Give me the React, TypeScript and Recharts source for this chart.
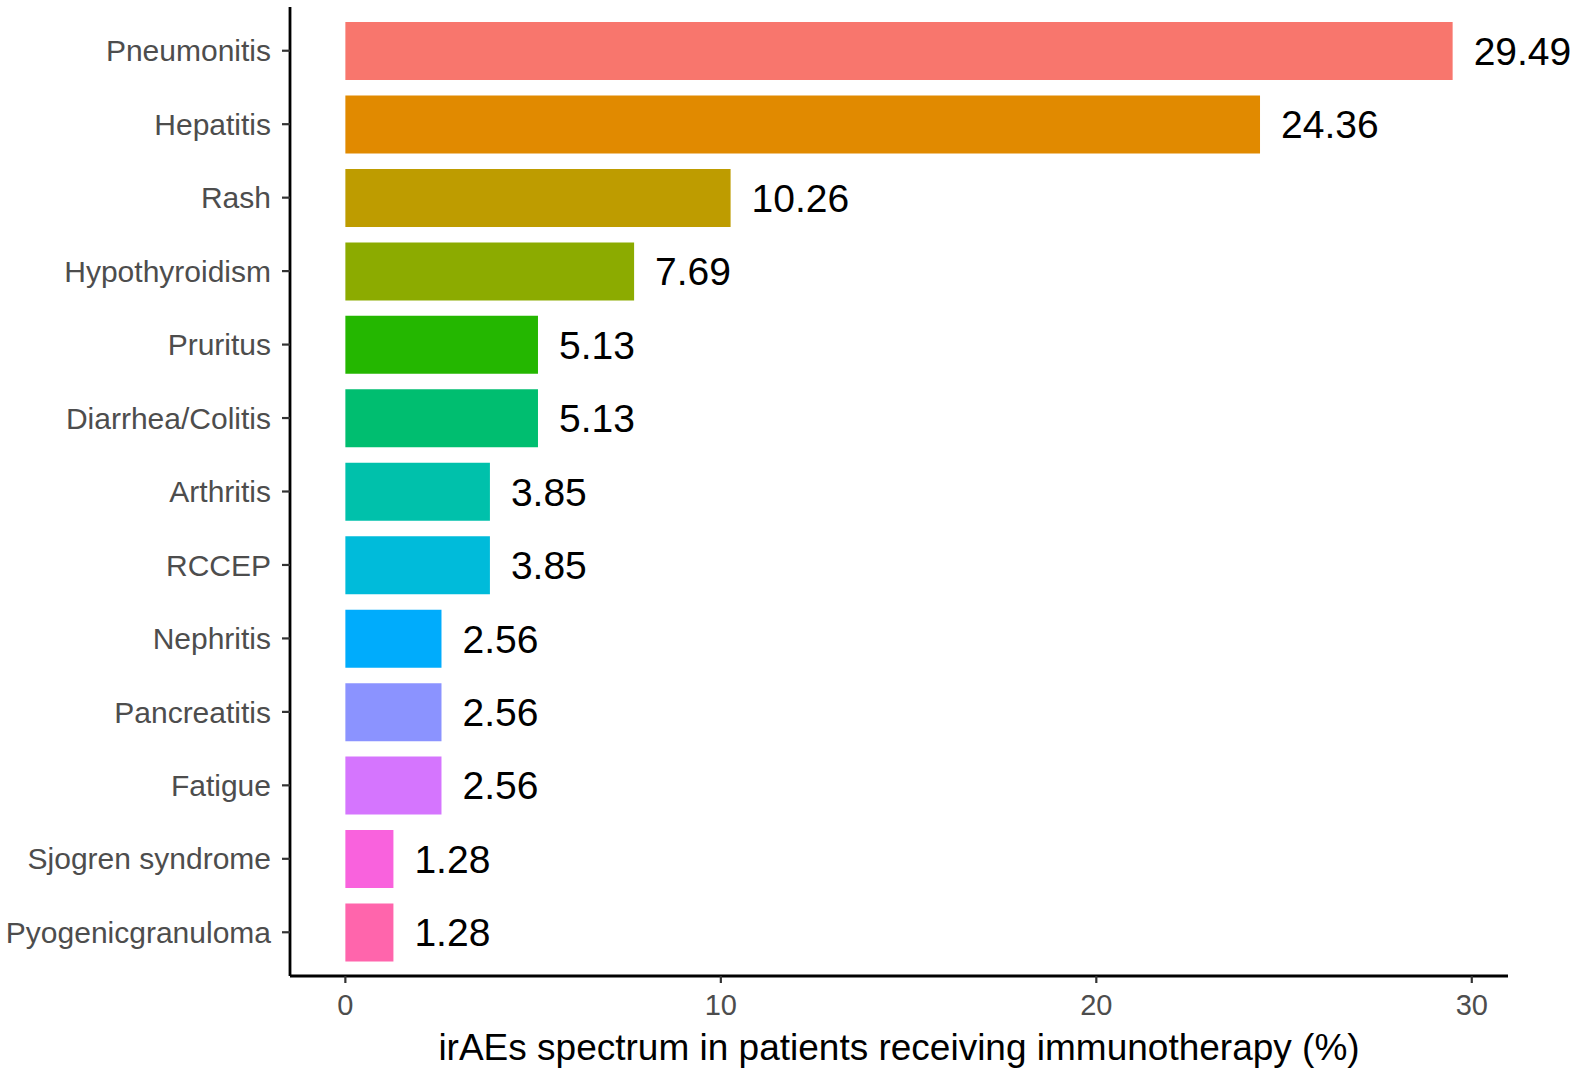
import { BarChart, Bar, XAxis, YAxis, Cell, LabelList, Label } from 'recharts'

const CATEGORIES = [
  'Pneumonitis',
  'Hepatitis',
  'Rash',
  'Hypothyroidism',
  'Pruritus',
  'Diarrhea/Colitis',
  'Arthritis',
  'RCCEP',
  'Nephritis',
  'Pancreatitis',
  'Fatigue',
  'Sjogren syndrome',
  'Pyogenicgranuloma',
]

const PERCENTS = [29.49, 24.36, 10.26, 7.69, 5.13, 5.13, 3.85, 3.85, 2.56, 2.56, 2.56, 1.28, 1.28]

// ggplot default hue palette, 13 levels
const HUE_COLORS = [
  '#F8766D',
  '#E18A00',
  '#BE9C00',
  '#8CAB00',
  '#24B700',
  '#00BE70',
  '#00C1AB',
  '#00BBDA',
  '#00ACFC',
  '#8B93FF',
  '#D575FE',
  '#F962DD',
  '#FF65AC',
]

const X_TICKS = [0, 10, 20, 30]

const FONT = '"Liberation Sans", Arial, Helvetica, sans-serif'

export default function App() {
  const data = CATEGORIES.map((name, i) => ({ name, value: PERCENTS[i], fill: HUE_COLORS[i] }))
  // ggplot adds 5% on each side of the data range
  const span = Math.max(...PERCENTS)
  const domain = [-span * 0.05, span * 1.05]

  return (
    <div
      style={{
        position: 'absolute',
        left: 0,
        top: 0,
        width: 1575,
        height: 1075,
        overflow: 'hidden',
        background: '#fff',
        fontFamily: FONT,
      }}
    >
      <BarChart
        width={1575}
        height={1075}
        data={data}
        layout="vertical"
        margin={{ top: 7, right: 67, bottom: 0, left: 0 }}
      >
        <XAxis
          type="number"
          dataKey="value"
          domain={domain}
          ticks={X_TICKS}
          allowDataOverflow
          height={99}
          tickSize={7}
          tickMargin={11}
          axisLine={{ stroke: '#000', strokeWidth: 2.8 }}
          tickLine={{ stroke: '#333', strokeWidth: 2.2 }}
          tick={{ fill: '#4D4D4D', fontSize: 29, fontFamily: FONT }}
        >
          <Label
            value="irAEs spectrum in patients receiving immunotherapy (%)"
            position="insideBottom"
            offset={15}
            style={{ fill: '#000', fontSize: 37, fontFamily: FONT }}
          />
        </XAxis>
        <YAxis
          type="category"
          dataKey="name"
          width={290}
          padding={{ top: 7, bottom: 7 }}
          tickSize={8}
          tickMargin={11}
          interval={0}
          axisLine={{ stroke: '#000', strokeWidth: 2.8 }}
          tickLine={{ stroke: '#333', strokeWidth: 2.2 }}
          tick={{ fill: '#4D4D4D', fontSize: 30, fontFamily: FONT }}
        />
        <Bar dataKey="value" barSize={58} isAnimationActive={false}>
          {data.map((d) => (
            <Cell key={d.name} fill={d.fill} />
          ))}
          <LabelList
            dataKey="value"
            position="right"
            offset={21}
            formatter={(v: number) => v.toFixed(2)}
            style={{ fill: '#000', fontSize: 39, fontFamily: FONT }}
          />
        </Bar>
      </BarChart>
    </div>
  )
}
